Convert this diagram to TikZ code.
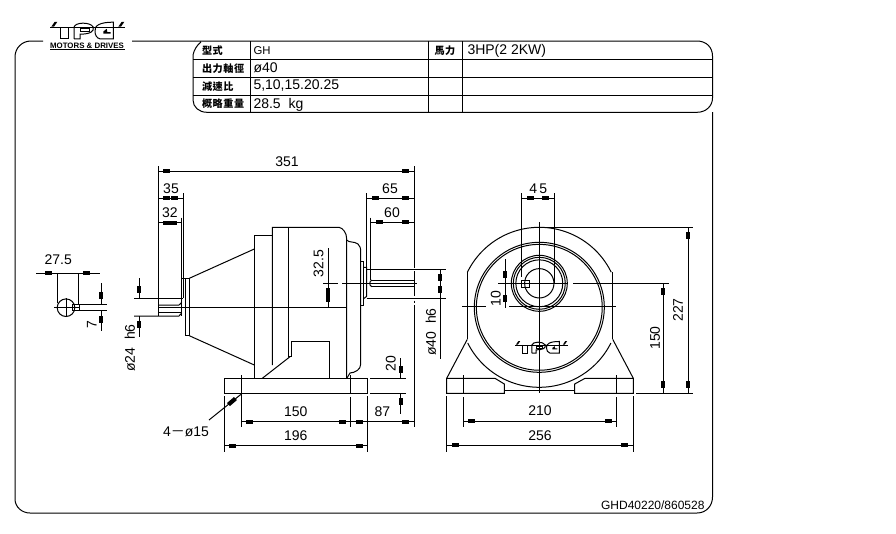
\documentclass[tikz,border=0pt]{standalone}
\usepackage{fontspec}
\setmainfont{Liberation Sans}
\newfontfamily\cjkf[LetterSpace=6]{Noto Sans CJK TC}
\newfontfamily\cjkp{Noto Sans CJK TC}
\newcommand\bH[3]{\fill (#1+5*#2,#3-2) rectangle (#1+12*#2,#3+2);}
\newcommand\bV[3]{\fill (#3-2,#1+5*#2) rectangle (#3+2,#1+12*#2);}
\newcommand\dimH[3]{\draw (#1,#3) -- (#2,#3); \bH{#1}{1}{#3} \bH{#2}{-1}{#3}}
\newcommand\arcp[5]{\draw plot[smooth,domain=#4:#5,samples=60] ({#1+#3*cos(\x)},{#2+#3*sin(\x)});}
\newcommand\tpglogo[3]{%
 \begin{scope}[shift={(#1,#2)},x=#3*0.25pt,y=-#3*0.25pt]
  \fill (0,15.5) rectangle (225,18.5);
  \fill (4,15.5) -- (14,1) -- (22,1) -- (12,15.5) -- cycle;
  \fill (205,15.5) -- (215,1) -- (223,1) -- (213,15.5) -- cycle;
  \draw (32,17) -- (32,52) -- (55,52) -- (55,17);
  \draw (72,52) -- (72,17) .. controls (75,2) and (120,0) .. (130,17) .. controls (133,30) and (120,38) .. (90,38) -- (90,52) -- (72,52);
  \draw (92,22) -- (118,22) -- (118,30) -- (92,30) -- cycle;
  \draw (135,30) .. controls (132,12) and (150,2) .. (190,2) -- (190,52) -- (150,52) .. controls (140,50) and (135,40) .. (135,30);
  \fill (160,30) -- (170,22) -- (172,32) -- (182,32) -- (182,36) -- (160,36) -- cycle;
 \end{scope}}
\tikzset{
 lbl/.style={font=\fontsize{10.5pt}{12pt}\selectfont,inner sep=0pt},
 cell/.style={font=\fontsize{10.5pt}{12pt}\selectfont,inner sep=0pt,anchor=west},
 cjk/.style={font=\cjkf\bfseries\fontsize{7.6pt}{9pt}\selectfont,inner sep=0pt,anchor=west},
 cad/.style={line width=0.75pt,line cap=butt,line join=miter}
}
\begin{document}
\begin{tikzpicture}[x=0.75pt,y=-0.75pt,cad]
\useasboundingbox[fill=white] (0,0) rectangle (896,533);
% frame
\draw (43,41) -- (31,41) .. controls (22,41) and (15,48) .. (15,57) -- (15,499) .. controls (15,507) and (22,513) .. (30,513) -- (697,513) .. controls (706,513) and (712.5,506) .. (712.5,497) -- (712.5,112);
\draw (132,41) -- (697,41) .. controls (706,41) and (712.5,47) .. (712.5,56) -- (712.5,98) .. controls (712.5,106) and (706,112.3) .. (697,112.3) -- (207,112.3) .. controls (199,112.3) and (193,107) .. (193,100) -- (193,55) .. controls (194,50) and (197,45) .. (201,42);
\foreach \yy in {59.3,77.3,95}{\draw (193,\yy) -- (712.5,\yy);}
\foreach \xx in {250,428,462}{\draw (\xx,41) -- (\xx,112.3);}
% table text
\node[cjk] (c1) at (201.5,51) {型式};
\node[cjk] (c2) at (201.5,68.5) {出力軸徑};
\node[cjk] (c3) at (201.5,86.5) {減速比};
\node[cjk] (c4) at (201.5,104) {概略重量};
\node[cjk] (c5) at (434,51) {馬力};
\node[cell,font=\fontsize{8.5pt}{10pt}\selectfont] (t1) at (253,51) {GH};
\node[cell] (t2) at (253,68) {ø40};
\node[cell] (t3) at (253,85.5) {5,10,15.20.25};
\node[cell] (t4) at (253,104.5) {28.5\ \ kg};
\node[cell] (t5) at (467,51) {3HP(2 2KW)};
\node[inner sep=0pt,anchor=east,font=\fontsize{9pt}{10pt}\selectfont] (code) at (705,505) {GHD40220/860528};
% logo
\tpglogo{50}{21.5}{1}
\node[inner sep=0pt,font=\fontsize{5.9pt}{6pt}\selectfont\bfseries] (md) at (87,45.5) {MOTORS \& DRIVES};
\draw (50,49.3) -- (125,49.3);
\tpglogo{515}{341}{0.7}
% ---------- side view
% input shaft
\draw (134,298.3) -- (183,298.3);
\draw (134,316) -- (179,316) -- (181.7,313);
\draw (158,305) -- (179,305) -- (181.7,302.5);
\draw (158,312.7) -- (181.7,312.7);
\draw (158,307.3) -- (347,307.3);
\draw (158.3,166) -- (158.3,316);
\draw (181.7,217.7) -- (181.7,316);
\draw (183.3,193) -- (183.3,298);
% flange & cone
\draw (181.7,278.3) -- (189.3,278.3) -- (189.3,335.7) -- (185,335.7) -- (185,278.3);
\draw (189.3,278.3) -- (254.3,249);
\draw (189.3,335.7) -- (254.3,365);
% body
\draw (254.3,378.3) -- (254.3,235) -- (272.3,235);
\draw (272.3,365) -- (272.3,227.3) -- (339,227.3) .. controls (343,228) and (346.7,233) .. (346.7,239) -- (346.7,378.3);
\draw (288.3,227.3) -- (288.3,356.7) -- (291.7,356.7) -- (291.7,341.7) -- (329.3,341.7) -- (329.3,378.3);
\draw (290,356.7) -- (262.3,378.3);
\draw (346.7,240) .. controls (349,243) and (354,241) .. (358,244) .. controls (360,246) and (360.7,248) .. (360.7,252) -- (360.7,364) .. controls (360.7,370) and (355,372.5) .. (350,373) -- (347,378);
\draw (360.7,261.7) -- (363.3,261.7) -- (363.3,305) -- (360.7,305);
\draw (363.3,267.3) -- (366.7,267.3) -- (366.7,296.3) -- (363.3,299);
% output shaft
\draw (366.7,269.3) -- (446,269.3);
\draw (366.7,298.3) -- (446,298.3);
\draw (372,280) -- (414.3,280);
\draw (372,286.7) -- (414.3,286.7);
\draw (372,280) .. controls (369,281) and (369,286) .. (372,286.7);
\draw (323,283.3) -- (338,283.3) (342,283.3) -- (417,283.3);
\draw (366.7,193) -- (366.7,267.3);
\draw (370.7,217.7) -- (370.7,280);
\draw (414.3,166) -- (414.3,268) (414.3,271) -- (414.3,296) (414.3,300.5) -- (414.3,303) (414.3,305) -- (414.3,427);
% base
\draw (224.3,378.3) rectangle (367.7,393.3);
\draw (241,375) -- (241,427);
\draw (350.7,375) -- (350.7,394) (350.7,397) -- (350.7,427);
\draw (224.3,396) -- (224.3,451.7) (367.7,396) -- (367.7,451.7);
\draw (370,378.3) -- (406,378.3) (370,393.3) -- (406,393.3);
% dims side
\dimH{158.3}{414.3}{171}
\dimH{158.3}{183.3}{198}
\dimH{158.3}{181.7}{222.7}
\dimH{366.7}{414.3}{198}
\dimH{370.7}{414.3}{222.3}
\dimH{241}{350.7}{421.7}
\dimH{350.7}{414.3}{421.7}
\dimH{224.3}{367.7}{445.7}
\draw (139.3,278.3) -- (139.3,298.3) (139.3,316) -- (139.3,337);
\bV{298.3}{-1}{139.3} \bV{316}{1}{139.3}
\draw (328.3,248.3) -- (328.3,307.3);
\bV{283.3}{1}{328.3} \bV{307.3}{-1}{328.3}
\draw (400.7,358) -- (400.7,378.3) (400.7,393.3) -- (400.7,414.3);
\bV{378.3}{-1}{400.7} \bV{393.3}{1}{400.7}
\draw (440,269.3) -- (440,359.3);
\bV{269.3}{1}{440} \bV{298.3}{-1}{440}
% leader
\coordinate (lead) at (209,420);
\coordinate (hole) at (241,394.3);
\draw (lead) -- (hole);
\fill (234,397) -- (237,400) -- (230,406) -- (227,403) -- cycle;
% texts side
\node[lbl] (d351) at (287,161.5) {351};
\node[lbl] (d35) at (171,188.5) {35};
\node[lbl] (d32) at (170,213) {32};
\node[lbl] (d65) at (390,189) {65};
\node[lbl] (d60) at (392,213) {60};
\node[lbl,rotate=90] (d325) at (318.5,263.5) {32.5};
\node[lbl,rotate=90] (dp24) at (130,348) {ø24\ \ h6};
\node[lbl,rotate=90] (dp40) at (431,332) {ø40\ \ h6};
\node[lbl,rotate=90] (d20) at (390.7,363.5) {20};
\node[lbl] (d150a) at (295.7,411.5) {150};
\node[lbl] (d87) at (382.3,411.5) {87};
\node[lbl] (d196) at (295.7,436) {196};
\node[lbl] (dh) at (186,431.7) {4{\cjkp －}ø15};
% ---------- key section
\draw (66,307.7) circle[radius=6.6pt];
\draw (66,298) -- (66,317);
\draw (54,307.7) -- (79,307.7);
\draw (72.3,304) rectangle (79,310.7);
\draw (57.3,273.3) -- (57.3,303) (78.3,273.3) -- (78.3,304);
\draw (36,273.3) -- (100,273.3);
\bH{57.3}{-1}{273.3} \bH{78.3}{1}{273.3}
\draw (80,304) -- (107,304) (80,310.7) -- (107,310.7);
\draw (101,283.3) -- (101,304) (101,310.7) -- (101,330.7);
\bV{304}{-1}{101} \bV{310.7}{1}{101}
\node[lbl] (d275) at (58.3,260) {27.5};
\node[lbl,rotate=90] (d7) at (91.7,325) {7};
% ---------- front view
% housing
\arcp{539.3}{307.3}{80}{206}{334}
\arcp{539.3}{307.3}{80}{26.5}{153.5}
\draw (467.3,272) -- (467.3,338.5) (612.7,272) -- (612.7,338.5);
\draw (539.3,307.3) circle[radius=48.75pt];
\draw (539.3,307.3) circle[radius=47.2pt];
\draw (539.3,283.3) circle[radius=21pt];
\draw (539.3,283.3) circle[radius=19.5pt];
\draw (539.3,283.3) circle[radius=17.6pt];
\draw (539.3,283.3) circle[radius=11pt];
\draw (521,280) rectangle (529,287.3);
% foot
\draw (446.7,378.3) -- (467.3,339.3);
\draw (633.3,378.3) -- (612.7,339.3);
\draw (504.3,387) -- (504.3,384) -- (495,378.3) -- (446.7,378.3) -- (446.7,393.3) -- (504.3,393.3) -- (504.3,387);
\draw (574.7,387) -- (574.7,384) -- (585,378.3) -- (633.3,378.3) -- (633.3,393.3) -- (574.7,393.3) -- (574.7,387);
\draw (504.3,390.7) -- (574.7,390.7);
% centre lines
\draw (539.3,222.3) -- (539.3,393);
\draw (498.3,283.3) -- (568.3,283.3) (573.3,283.3) -- (669,283.3);
\draw (462.3,306.7) -- (485.7,306.7) (509,306.7) -- (616,306.7);
\draw (463.3,375) -- (463.3,394) (463.3,397) -- (463.3,427);
\draw (616.7,375) -- (616.7,394) (616.7,397) -- (616.7,427);
\draw (446.7,396) -- (446.7,451.7) (633.3,396) -- (633.3,451.7);
% front dims
\draw (521.7,193.3) -- (521.7,277) (554.3,193.3) -- (554.3,283);
\dimH{521.7}{554.3}{198.3}
\draw (505.3,259.3) -- (505.3,308);
\bV{283.3}{-1}{505.3} \bV{306.7}{-1}{505.3}
\draw (546.7,227.3) -- (693,227.3);
\draw (636,393.3) -- (693,393.3);
\draw (688.3,227.3) -- (688.3,393.3);
\bV{227.3}{1}{688.3} \bV{393.3}{-1}{688.3}
\draw (663.3,283.3) -- (663.3,393.3);
\bV{283.3}{1}{663.3} \bV{393.3}{-1}{663.3}
\dimH{463.3}{616.7}{421}
\dimH{446.7}{633.3}{445.3}
\node[lbl] (d45) at (538.3,188.3) {4\,5};
\node[lbl,rotate=90] (d10) at (495.7,298.3) {10};
\node[lbl,rotate=90] (d150b) at (655,338) {150};
\node[lbl,rotate=90] (d227) at (678,310) {227};
\node[lbl] (d210) at (540,411) {210};
\node[lbl] (d256) at (540,436) {256};
\end{tikzpicture}
\end{document}
